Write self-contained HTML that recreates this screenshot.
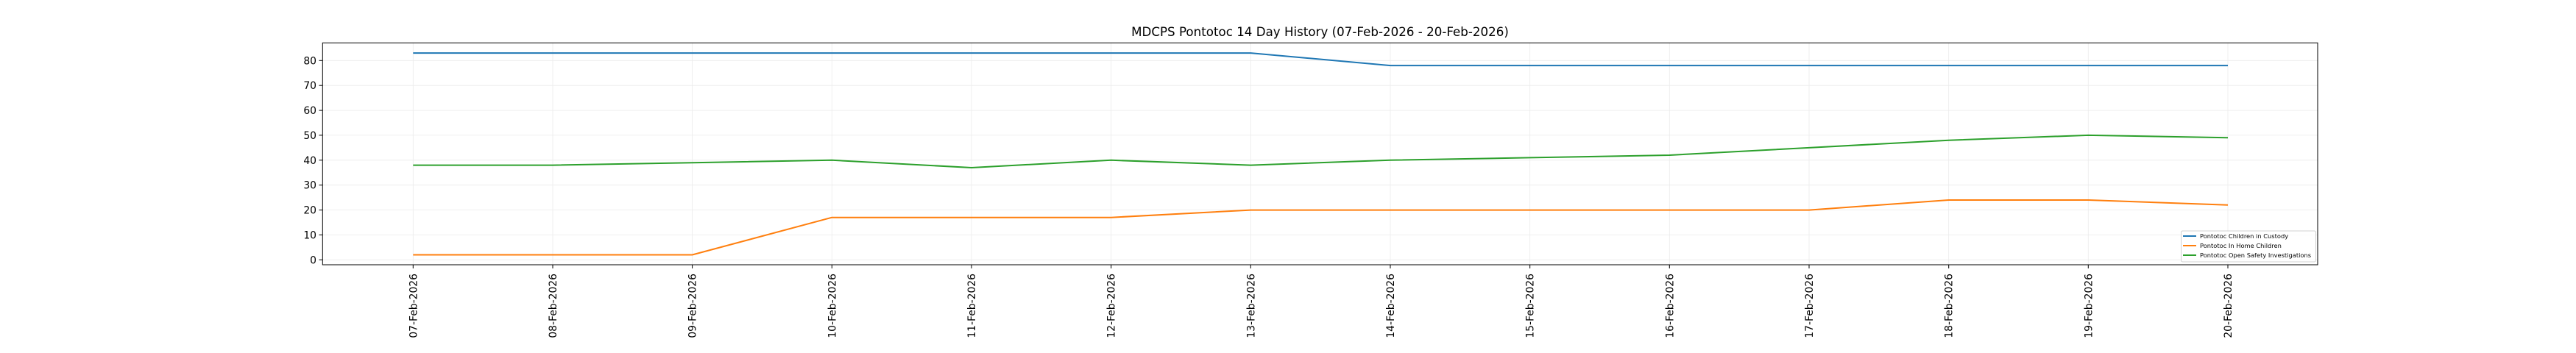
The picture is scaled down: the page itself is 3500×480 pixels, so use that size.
<!DOCTYPE html>
<html><head><meta charset="utf-8"><style>html,body{margin:0;padding:0;background:#fff;}svg{display:block;}</style></head>
<body>
<svg width="3500" height="480" xmlns="http://www.w3.org/2000/svg" font-family="DejaVu Sans, Liberation Sans, sans-serif">
<rect width="3500" height="480" fill="#fff"/>
<text x="1793.5" y="49" font-size="16.7" text-anchor="middle" fill="#000">MDCPS Pontotoc 14 Day History (07-Feb-2026 - 20-Feb-2026)</text>
<g stroke="#ebebeb" stroke-width="0.8">
<line x1="438.3" x2="3149" y1="353.3" y2="353.3"/><line x1="438.3" x2="3149" y1="319.4" y2="319.4"/><line x1="438.3" x2="3149" y1="285.6" y2="285.6"/><line x1="438.3" x2="3149" y1="251.7" y2="251.7"/><line x1="438.3" x2="3149" y1="217.8" y2="217.8"/><line x1="438.3" x2="3149" y1="183.9" y2="183.9"/><line x1="438.3" x2="3149" y1="150.1" y2="150.1"/><line x1="438.3" x2="3149" y1="116.2" y2="116.2"/><line x1="438.3" x2="3149" y1="82.3" y2="82.3"/>
<line y1="58.3" y2="360" x1="561.3" x2="561.3"/><line y1="58.3" y2="360" x1="751.0" x2="751.0"/><line y1="58.3" y2="360" x1="940.6" x2="940.6"/><line y1="58.3" y2="360" x1="1130.3" x2="1130.3"/><line y1="58.3" y2="360" x1="1320.0" x2="1320.0"/><line y1="58.3" y2="360" x1="1509.7" x2="1509.7"/><line y1="58.3" y2="360" x1="1699.3" x2="1699.3"/><line y1="58.3" y2="360" x1="1889.0" x2="1889.0"/><line y1="58.3" y2="360" x1="2078.7" x2="2078.7"/><line y1="58.3" y2="360" x1="2268.3" x2="2268.3"/><line y1="58.3" y2="360" x1="2458.0" x2="2458.0"/><line y1="58.3" y2="360" x1="2647.7" x2="2647.7"/><line y1="58.3" y2="360" x1="2837.3" x2="2837.3"/><line y1="58.3" y2="360" x1="3027.0" x2="3027.0"/>
</g>
<g fill="none" stroke-width="2" stroke-linejoin="round">
<polyline stroke="#1f77b4" points="561.3,72.1 751.0,72.1 940.6,72.1 1130.3,72.1 1320.0,72.1 1509.7,72.1 1699.3,72.1 1889.0,89.1 2078.7,89.1 2268.3,89.1 2458.0,89.1 2647.7,89.1 2837.3,89.1 3027.0,89.1"/>
<polyline stroke="#ff7f0e" points="561.3,346.5 751.0,346.5 940.6,346.5 1130.3,295.7 1320.0,295.7 1509.7,295.7 1699.3,285.6 1889.0,285.6 2078.7,285.6 2268.3,285.6 2458.0,285.6 2647.7,272.0 2837.3,272.0 3027.0,278.8"/>
<polyline stroke="#2ca02c" points="561.3,224.6 751.0,224.6 940.6,221.2 1130.3,217.8 1320.0,228.0 1509.7,217.8 1699.3,224.6 1889.0,217.8 2078.7,214.4 2268.3,211.0 2458.0,200.9 2647.7,190.7 2837.3,183.9 3027.0,187.3"/>
</g>
<rect x="438.3" y="58.3" width="2710.7" height="301.7" fill="none" stroke="#000" stroke-width="1"/>
<g stroke="#000" stroke-width="1">
<line x1="433.5" x2="438.3" y1="353.3" y2="353.3"/><line x1="433.5" x2="438.3" y1="319.4" y2="319.4"/><line x1="433.5" x2="438.3" y1="285.6" y2="285.6"/><line x1="433.5" x2="438.3" y1="251.7" y2="251.7"/><line x1="433.5" x2="438.3" y1="217.8" y2="217.8"/><line x1="433.5" x2="438.3" y1="183.9" y2="183.9"/><line x1="433.5" x2="438.3" y1="150.1" y2="150.1"/><line x1="433.5" x2="438.3" y1="116.2" y2="116.2"/><line x1="433.5" x2="438.3" y1="82.3" y2="82.3"/>
<line y1="360" y2="365" x1="561.3" x2="561.3"/><line y1="360" y2="365" x1="751.0" x2="751.0"/><line y1="360" y2="365" x1="940.6" x2="940.6"/><line y1="360" y2="365" x1="1130.3" x2="1130.3"/><line y1="360" y2="365" x1="1320.0" x2="1320.0"/><line y1="360" y2="365" x1="1509.7" x2="1509.7"/><line y1="360" y2="365" x1="1699.3" x2="1699.3"/><line y1="360" y2="365" x1="1889.0" x2="1889.0"/><line y1="360" y2="365" x1="2078.7" x2="2078.7"/><line y1="360" y2="365" x1="2268.3" x2="2268.3"/><line y1="360" y2="365" x1="2458.0" x2="2458.0"/><line y1="360" y2="365" x1="2647.7" x2="2647.7"/><line y1="360" y2="365" x1="2837.3" x2="2837.3"/><line y1="360" y2="365" x1="3027.0" x2="3027.0"/>
</g>
<g font-size="13.9" fill="#000" text-anchor="end">
<text x="430" y="358.3">0</text><text x="430" y="324.4">10</text><text x="430" y="290.6">20</text><text x="430" y="256.7">30</text><text x="430" y="222.8">40</text><text x="430" y="188.9">50</text><text x="430" y="155.1">60</text><text x="430" y="121.2">70</text><text x="430" y="87.3">80</text>
</g>
<g font-size="13.9" fill="#000" text-anchor="end">
<text transform="translate(566.3,372) rotate(-90)">07-Feb-2026</text>
<text transform="translate(756.0,372) rotate(-90)">08-Feb-2026</text>
<text transform="translate(945.6,372) rotate(-90)">09-Feb-2026</text>
<text transform="translate(1135.3,372) rotate(-90)">10-Feb-2026</text>
<text transform="translate(1325.0,372) rotate(-90)">11-Feb-2026</text>
<text transform="translate(1514.7,372) rotate(-90)">12-Feb-2026</text>
<text transform="translate(1704.3,372) rotate(-90)">13-Feb-2026</text>
<text transform="translate(1894.0,372) rotate(-90)">14-Feb-2026</text>
<text transform="translate(2083.7,372) rotate(-90)">15-Feb-2026</text>
<text transform="translate(2273.3,372) rotate(-90)">16-Feb-2026</text>
<text transform="translate(2463.0,372) rotate(-90)">17-Feb-2026</text>
<text transform="translate(2652.7,372) rotate(-90)">18-Feb-2026</text>
<text transform="translate(2842.3,372) rotate(-90)">19-Feb-2026</text>
<text transform="translate(3032.0,372) rotate(-90)">20-Feb-2026</text>
</g>
<rect x="2963.5" y="314" width="183" height="42" rx="2" fill="#fff" fill-opacity="0.8" stroke="#d0d0d0" stroke-width="1"/>
<g stroke-width="2">
<line x1="2966" x2="2984" y1="321" y2="321" stroke="#1f77b4"/>
<line x1="2966" x2="2984" y1="334" y2="334" stroke="#ff7f0e"/>
<line x1="2966" x2="2984" y1="347" y2="347" stroke="#2ca02c"/>
</g>
<g font-size="8.3" fill="#000">
<text x="2989" y="324">Pontotoc Children in Custody</text>
<text x="2989" y="337">Pontotoc In Home Children</text>
<text x="2989" y="350">Pontotoc Open Safety Investigations</text>
</g>
</svg>
</body></html>
